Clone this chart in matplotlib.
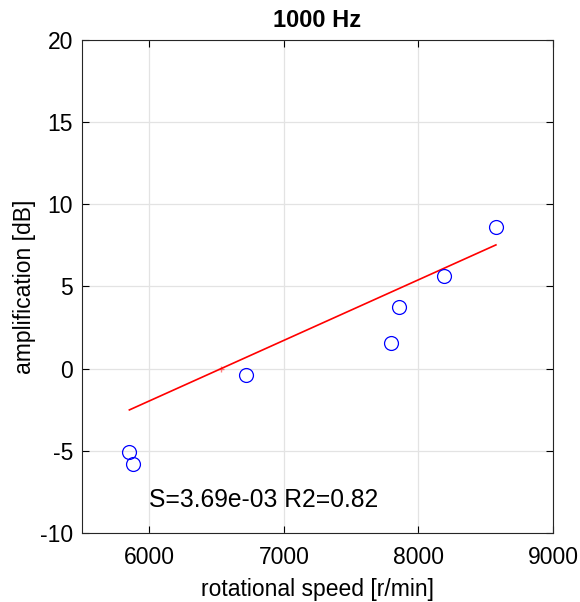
import matplotlib.pyplot as plt

plt.rcParams['font.family'] = ['Liberation Sans', 'DejaVu Sans']
plt.rcParams['axes.unicode_minus'] = False

# measured points
speed = [5847, 5879, 6719, 7798, 7857, 8187, 8576]
amp = [-5.09, -5.78, -0.37, 1.58, 3.77, 5.64, 8.64]

# regression line (end points) and its zero crossing
fit_x = [5852, 8576]
fit_y = [-2.51, 7.53]
zero_x = [6533]
zero_y = [0]

title = "1000 Hz"
note = "S=3.69e-03 R2=0.82"

fig = plt.figure(figsize=(5.8, 6.02), dpi=100)
ax = fig.add_axes([0.1414, 0.1146, 0.8120, 0.8190])

ax.plot(fit_x, fit_y, color='red', linewidth=1.2, zorder=3)
ax.plot(zero_x, zero_y, '+', color='red', markersize=5, alpha=0.5, zorder=3)
ax.plot(speed, amp, 'o', markerfacecolor='none', markeredgecolor='blue',
        markersize=10, markeredgewidth=0.9, zorder=4)

ax.text(6000, -8.0, note, fontsize=17.7, ha='left', va='center')

ax.set_xlim(5500, 9000)
ax.set_ylim(-10, 20)
ax.set_xticks([6000, 7000, 8000, 9000])
ax.set_yticks([-10, -5, 0, 5, 10, 15, 20])
ax.tick_params(direction='in', top=True, right=True, labelsize=16.5, length=5, width=0.8)
ax.tick_params(axis='x', pad=9)
ax.tick_params(axis='y', pad=6.5)
ax.grid(True, color='#e3e3e3', linewidth=0.9)
ax.set_axisbelow(True)
for s in ax.spines.values():
    s.set_linewidth(0.8)
    s.set_color('#262626')

ax.set_title(title, fontsize=17, fontweight='bold', pad=9)
ax.set_xlabel("rotational speed [r/min]", fontsize=16.5, labelpad=7)
ax.set_ylabel("amplification [dB]", fontsize=16.5, labelpad=3)

plt.savefig("out.png", dpi=100)
plt.close()
